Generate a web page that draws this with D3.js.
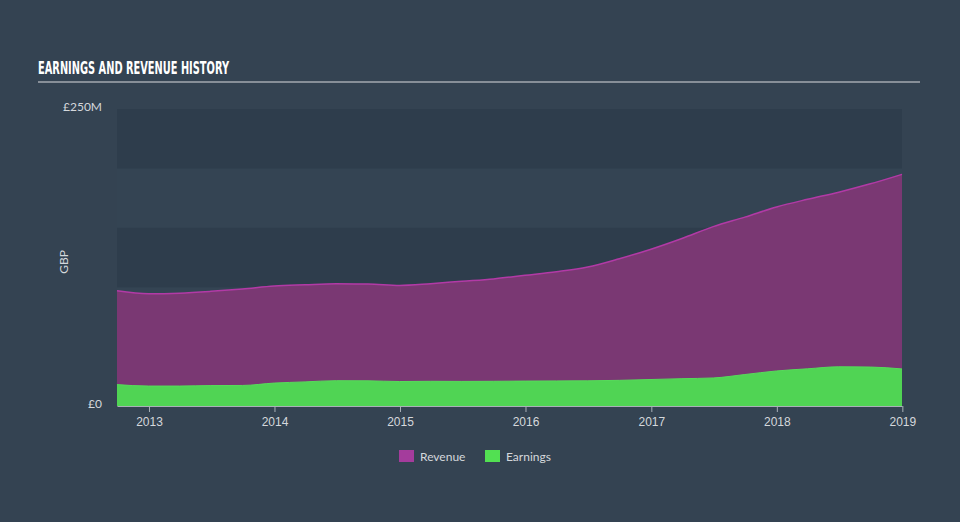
<!DOCTYPE html>
<html><head><meta charset="utf-8">
<script src="https://cdn.jsdelivr.net/npm/d3@7"></script>
<style>
html,body{margin:0;padding:0;background:#344352;}
svg{display:block;font-family:Lato,"Open Sans",sans-serif;}
</style></head>
<body><svg id="c" width="960" height="522"></svg>
<script>
const dates = ["2012-09-30","2012-12-31","2013-03-31","2013-06-30","2013-09-30","2013-12-31","2014-03-31","2014-06-30","2014-09-30","2014-12-31","2015-03-31","2015-06-30","2015-09-30","2015-12-31","2016-03-31","2016-06-30","2016-09-30","2016-12-31","2017-03-31","2017-06-30","2017-09-30","2017-12-31","2018-03-31","2018-06-30","2018-09-30","2018-12-31"];
const revenue = [97, 94.5, 95, 96.5, 98.5, 101, 102, 102.8, 102.7, 101.5, 103, 105, 107, 110, 113, 117, 124, 132, 141, 151, 159, 167.5, 174, 180, 187, 195];
const earnings = [18, 16.8, 16.8, 17.2, 17.3, 19.3, 20.3, 21.3, 21.2, 20.6, 20.8, 20.7, 20.8, 21, 21.1, 21.2, 21.6, 22.3, 23, 23.6, 26.5, 29.5, 31.3, 33, 32.8, 31.2];
const yTicks = [0, 250];
const seriesNames = ["Revenue","Earnings"];

const parse = d3.timeParse("%Y-%m-%d");
const data = dates.map((d,i)=>({date:parse(d), rev:revenue[i], earn:earnings[i]}));

const svg = d3.select("#c");
const L=117, R=902, T=109, B=406;
const x = d3.scaleTime().domain([parse("2012-09-30"), parse("2018-12-31")]).range([L,R]);
const y = d3.scaleLinear().domain([0,250]).range([B,T]);

// title
svg.append("text").attr("x",38).attr("y",74).text("EARNINGS AND REVENUE HISTORY")
  .attr("fill","#ffffff").attr("font-family","'DejaVu Sans Condensed','Liberation Sans Narrow',sans-serif")
  .attr("font-weight","bold").attr("font-size",18)
  .attr("textLength",191).attr("lengthAdjust","spacingAndGlyphs");
svg.append("line").attr("x1",38).attr("x2",920).attr("y1",82).attr("y2",82)
  .attr("stroke","#a3a9b0").attr("stroke-width",1.5);

// bands
const bands = [0,50,100,150,200];
svg.append("g").selectAll("rect").data(bands).join("rect")
  .attr("x",L).attr("width",R-L)
  .attr("y",d=>y(d+50)).attr("height",d=>y(d)-y(d+50))
  .attr("fill",(d,i)=> i%2===0 ? "#2e3d4c" : "#344453");

const area = (key)=> d3.area().x(d=>x(d.date)).y0(y(0)).y1(d=>y(d[key])).curve(d3.curveMonotoneX);
const line = (key)=> d3.line().x(d=>x(d.date)).y(d=>y(d[key])).curve(d3.curveMonotoneX);

svg.append("path").datum(data).attr("d",area("rev")).attr("fill","#7a3873");
svg.append("path").datum(data).attr("d",line("rev")).attr("fill","none").attr("stroke","#b23aa6").attr("stroke-width",1.5);
svg.append("path").datum(data).attr("d",area("earn")).attr("fill","#50d454");
svg.append("path").datum(data).attr("d",line("earn")).attr("fill","none").attr("stroke","#56dc5a").attr("stroke-width",1);

// x axis
const xAxis = d3.axisBottom(x).tickValues([2013,2014,2015,2016,2017,2018,2019].map(yr=>new Date(yr,0,1)))
  .tickFormat(d3.timeFormat("%Y")).tickSize(6).tickSizeOuter(0);
const gx = svg.append("g").attr("transform",`translate(0,${B})`).call(xAxis);
gx.select(".domain").attr("stroke","#a9b0b8");
gx.selectAll(".tick line").attr("stroke","#a9b0b8");
gx.selectAll(".tick text").attr("fill","#d4d8dc").attr("font-size",12).attr("dy","0.95em");

// y labels
svg.append("g").selectAll("text").data(yTicks).join("text")
  .attr("x",102).attr("y",d=>y(d)+2).attr("text-anchor","end")
  .attr("fill","#d4d8dc").attr("font-size",12)
  .text(d=> d===0 ? "£0" : "£"+d+"M");
svg.append("text").attr("transform","translate(68,262) rotate(-90)").attr("text-anchor","middle")
  .attr("fill","#d4d8dc").attr("font-size",12).text("GBP");

// legend
const leg = [{n:seriesNames[0],c:"#a43c9c",x:399},{n:seriesNames[1],c:"#52e052",x:485}];
const lg = svg.append("g");
leg.forEach(d=>{
  lg.append("rect").attr("x",d.x).attr("y",450).attr("width",15).attr("height",12).attr("fill",d.c);
  lg.append("text").attr("x",d.x+21).attr("y",460.5).attr("fill","#d4d8dc").attr("font-size",12).text(d.n);
});
</script></body></html>
